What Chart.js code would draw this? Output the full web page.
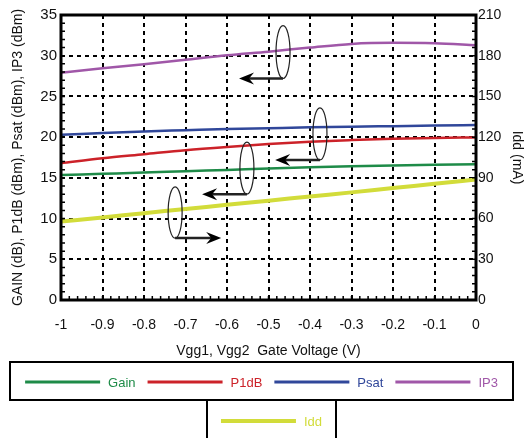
<!DOCTYPE html>
<html>
<head>
<meta charset="utf-8">
<script src="https://cdn.jsdelivr.net/npm/chart.js@4/dist/chart.umd.min.js"></script>
<style>
  html, body { margin: 0; padding: 0; background: #fff; }
  #wrap { width: 525px; height: 438px; position: relative; }
</style>
</head>
<body>
<div id="wrap"><canvas id="chart" width="525" height="438"></canvas></div>
<script>
// gate voltage sweep (V)
const voltages = [-1, -0.9, -0.8, -0.7, -0.6, -0.5, -0.4, -0.3, -0.2, -0.1, 0];

// left axis series
const gain = [15.35, 15.5, 15.65, 15.82, 15.98, 16.15, 16.3, 16.42, 16.52, 16.6, 16.68];
const p1dB = [16.8, 17.4, 17.9, 18.4, 18.8, 19.15, 19.44, 19.64, 19.8, 19.9, 19.97];
const psat = [20.3, 20.5, 20.7, 20.85, 21.0, 21.1, 21.2, 21.28, 21.35, 21.42, 21.5];
const ip3 = [27.9, 28.45, 28.95, 29.5, 30.05, 30.5, 31.0, 31.45, 31.58, 31.52, 31.3];

// right axis series (mA)
const idd = [57.8, 60.8, 64.0, 67.0, 70.2, 73.2, 76.3, 79.3, 82.5, 85.6, 88.8];

const seriesNames = ['Gain', 'P1dB', 'Psat', 'IP3', 'Idd'];
const seriesColors = ['#1e8b48', '#cc2229', '#30479a', '#a057a8', '#d2dc3a'];

// ellipse + arrow markers telling which axis a curve belongs to (data units)
const markers = [
  { x: -0.465, y: 30.45, arrowY: 27.2, arrowTo: -0.571 },
  { x: -0.376, y: 20.4, arrowY: 17.2, arrowTo: -0.484 },
  { x: -0.552, y: 16.2, arrowY: 13.0, arrowTo: -0.660 },
  { x: -0.725, y: 10.75, arrowY: 7.6, arrowTo: -0.614 }
];

const FONT = '"Liberation Sans", Arial, Helvetica, sans-serif';

function pts(arr) {
  return arr.map((v, i) => ({ x: voltages[i], y: v }));
}

const seriesData = [gain, p1dB, psat, ip3, idd];
const datasets = seriesData.map((arr, i) => ({
  label: seriesNames[i],
  data: pts(arr),
  borderColor: seriesColors[i],
  backgroundColor: seriesColors[i],
  borderWidth: i === 4 ? 4 : 2.5,
  pointRadius: 0,
  tension: 0.4,
  cubicInterpolationMode: 'monotone',
  yAxisID: i === 4 ? 'y2' : 'y'
}));

function arrowHead(ctx, x, y, dir) {
  const len = 15, half = 6;
  ctx.beginPath();
  ctx.moveTo(x, y);
  ctx.lineTo(x - dir * len, y - half);
  ctx.lineTo(x - dir * (len - 5), y);
  ctx.lineTo(x - dir * len, y + half);
  ctx.closePath();
  ctx.fill();
}

const extras = {
  id: 'extras',
  afterDatasetsDraw(chart) {
    const { ctx, chartArea: a, scales } = chart;
    const xs = scales.x, ys = scales.y, ys2 = scales.y2;
    ctx.save();
    ctx.strokeStyle = '#000';
    ctx.fillStyle = '#000';

    // minor ticks, drawn inward
    ctx.lineWidth = 1.5;
    ctx.beginPath();
    for (let v = 0; v <= 35; v++) {
      const py = ys.getPixelForValue(v);
      ctx.moveTo(a.left, py); ctx.lineTo(a.left + 4, py);
    }
    for (let v = 0; v <= 210; v += 6) {
      const py = ys2.getPixelForValue(v);
      ctx.moveTo(a.right, py); ctx.lineTo(a.right - 4, py);
    }
    for (let k = 0; k <= 50; k++) {
      const px = xs.getPixelForValue(-1 + k * 0.02);
      ctx.moveTo(px, a.bottom); ctx.lineTo(px, a.bottom - 4);
    }
    ctx.stroke();

    // plot frame
    ctx.lineWidth = 3;
    ctx.strokeRect(a.left, a.top, a.right - a.left, a.bottom - a.top);

    // axis markers
    ctx.strokeStyle = '#222';
    markers.forEach(m => {
      const cx = xs.getPixelForValue(m.x);
      const cy = ys.getPixelForValue(m.y);
      const ay = ys.getPixelForValue(m.arrowY);
      const tx = xs.getPixelForValue(m.arrowTo);
      ctx.lineWidth = 1.2;
      ctx.beginPath();
      ctx.ellipse(cx, cy, 7, ay - cy, 0, 0, Math.PI * 2);
      ctx.stroke();
      const dir = tx > cx ? 1 : -1;
      ctx.lineWidth = 2.5;
      ctx.beginPath();
      ctx.moveTo(cx, ay);
      ctx.lineTo(tx - dir * 8, ay);
      ctx.stroke();
      arrowHead(ctx, tx, ay, dir);
    });
    ctx.restore();
  },
  afterDraw(chart) {
    // legend: four series in a framed row, Idd in a tab below
    const { ctx } = chart;
    ctx.save();
    ctx.font = '13px ' + FONT;
    ctx.textBaseline = 'middle';
    const lineLen = 75, textGap = 8, itemGap = 12;

    function drawRow(items, left, right, y) {
      const widths = items.map(i => lineLen + textGap + ctx.measureText(seriesNames[i]).width);
      const total = widths.reduce((s, w) => s + w, 0) + itemGap * (items.length - 1);
      let x = (left + right) / 2 - total / 2;
      items.forEach((i, k) => {
        ctx.strokeStyle = seriesColors[i];
        ctx.lineWidth = i === 4 ? 4 : 3;
        ctx.beginPath();
        ctx.moveTo(x, y); ctx.lineTo(x + lineLen, y);
        ctx.stroke();
        ctx.fillStyle = seriesColors[i];
        ctx.fillText(seriesNames[i], x + lineLen + textGap, y + 1);
        x += widths[k] + itemGap;
      });
    }

    ctx.strokeStyle = '#000';
    ctx.lineWidth = 2;
    ctx.strokeRect(10, 362, 503, 38);
    ctx.beginPath();
    ctx.moveTo(207, 401); ctx.lineTo(207, 440);
    ctx.moveTo(336, 401); ctx.lineTo(336, 440);
    ctx.stroke();

    drawRow([0, 1, 2, 3], 10, 513, 382);
    drawRow([4], 207, 336, 421);
    ctx.restore();
  }
};

const gridStyle = {
  color: '#000',
  lineWidth: 2,
  drawTicks: false
};

new Chart(document.getElementById('chart'), {
  type: 'line',
  data: { datasets },
  plugins: [extras],
  options: {
    responsive: false,
    animation: false,
    layout: { padding: { left: 0, right: 0, top: 15, bottom: 78 } },
    plugins: {
      legend: { display: false },
      tooltip: { enabled: false }
    },
    scales: {
      x: {
        type: 'linear',
        min: -1,
        max: 0,
        grid: gridStyle,
        border: { display: false, dash: [4, 4] },
        ticks: {
          stepSize: 0.1,
          padding: 17,
          color: '#111',
          font: { family: FONT, size: 14 },
          maxRotation: 0,
          callback: v => String(Math.round(v * 10) / 10)
        },
        title: {
          display: true,
          text: 'Vgg1, Vgg2  Gate Voltage (V)',
          color: '#111',
          font: { family: FONT, size: 14 },
          padding: { top: 9, bottom: 0 }
        },
        afterFit: s => { s.height = 60; }
      },
      y: {
        position: 'left',
        min: 0,
        max: 35,
        grid: gridStyle,
        border: { display: false, dash: [4, 4] },
        ticks: {
          stepSize: 5,
          padding: 4,
          color: '#111',
          font: { family: FONT, size: 15 }
        },
        title: {
          display: true,
          text: 'GAIN (dB), P1dB (dBm), Psat (dBm), IP3 (dBm)',
          color: '#111',
          font: { family: FONT, size: 14 },
          padding: { top: 10, bottom: 0 }
        },
        afterFit: s => { s.width = 61; }
      },
      y2: {
        position: 'right',
        min: 0,
        max: 210,
        grid: { display: false, drawTicks: false },
        border: { display: false },
        ticks: {
          stepSize: 30,
          padding: 2,
          color: '#111',
          font: { family: FONT, size: 14 }
        },
        title: {
          display: true,
          text: 'Idd (mA)',
          color: '#111',
          font: { family: FONT, size: 14 },
          padding: { top: 0, bottom: 0 }
        },
        afterFit: s => { s.width = 49; }
      }
    }
  }
});
</script>
</body>
</html>
